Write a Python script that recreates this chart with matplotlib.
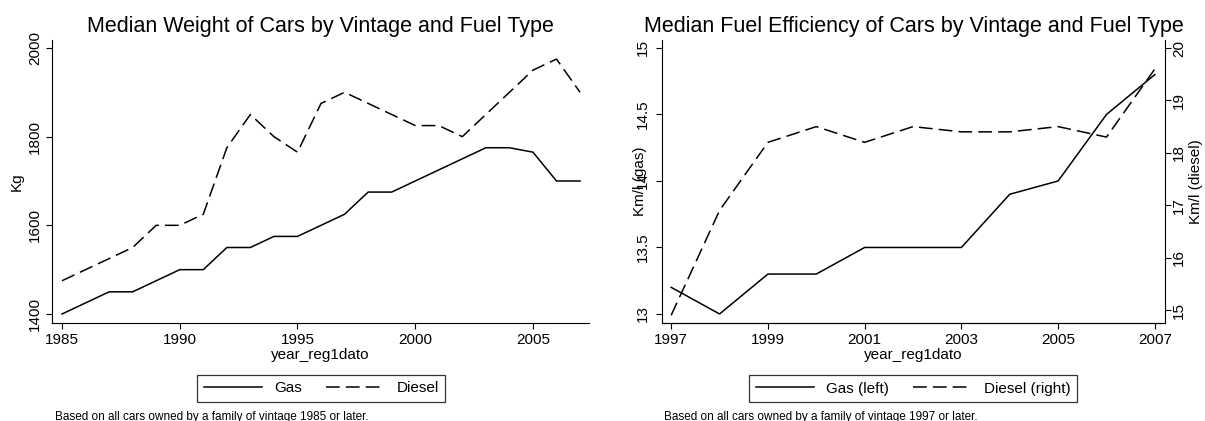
import matplotlib
matplotlib.use("Agg")
from matplotlib import pyplot as plt

plt.rcParams["font.family"] = ["Liberation Sans", "DejaVu Sans"]

# Left panel: median weight (kg)
years_w = list(range(1985, 2008))
gas_w = [1400, 1425, 1450, 1450, 1475, 1500, 1500, 1550, 1550, 1575, 1575, 1600,
         1625, 1675, 1675, 1700, 1725, 1750, 1775, 1775, 1765, 1700, 1700]
diesel_w = [1475, 1500, 1525, 1550, 1600, 1600, 1625, 1775, 1850, 1800, 1765, 1875,
            1900, 1875, 1850, 1825, 1825, 1800, 1850, 1900, 1950, 1975, 1900]

# Right panel: median fuel efficiency (km/l)
years_e = list(range(1997, 2008))
gas_e = [13.2, 13.0, 13.3, 13.3, 13.5, 13.5, 13.5, 13.9, 14.0, 14.5, 14.8]
diesel_e = [14.9, 16.9, 18.2, 18.5, 18.2, 18.5, 18.4, 18.4, 18.5, 18.3, 19.6]

W, H = 1205, 421
fig = plt.figure(figsize=(W / 100, H / 100), dpi=100)

dash = (0, (9, 4))
lw = 1.1
tick_fs = 11
lab_fs = 11
title_fs = 15.5


def rot_yticks(ax):
    for lbl in ax.get_yticklabels():
        lbl.set_rotation(90)
        lbl.set_va("center")


def style(ax):
    ax.spines["top"].set_visible(False)
    ax.spines["right"].set_visible(False)
    ax.tick_params(direction="out", length=4, width=0.8, pad=3, labelsize=tick_fs, colors="black")
    rot_yticks(ax)


def add_legend(handles, cx):
    leg = fig.legend(handles=handles, loc="center", bbox_to_anchor=(cx / W, 1 - 388.5 / H),
                     ncol=2, frameon=True, fancybox=False, fontsize=lab_fs, handlelength=3.8,
                     columnspacing=1.6, borderpad=0.45, edgecolor="black")
    leg.get_frame().set_linewidth(0.9)
    return leg


# ---- left chart
ax1 = fig.add_axes([52 / W, 1 - 323 / H, (589 - 52) / W, (323 - 40) / H])
l1, = ax1.plot(years_w, gas_w, color="black", lw=lw, label="Gas")
l2, = ax1.plot(years_w, diesel_w, color="black", lw=lw, linestyle=dash, label="Diesel")
ax1.set_xlim(1984.575, 2007.38)
ax1.set_ylim(1379.7, 2018)
ax1.set_xticks([1985, 1990, 1995, 2000, 2005])
ax1.set_yticks([1400, 1600, 1800, 2000])
style(ax1)
ax1.set_xlabel("year_reg1dato", fontsize=lab_fs, labelpad=1)
ax1.set_ylabel("Kg", fontsize=lab_fs, labelpad=3)
ax1.set_title("Median Weight of Cars by Vintage and Fuel Type", fontsize=title_fs, pad=6)
add_legend([l1, l2], 321)
fig.text(55 / W, 1 - 417 / H, "Based on all cars owned by a family of vintage 1985 or later.",
         fontsize=8.5, va="center", ha="left")

# ---- right chart
ax2 = fig.add_axes([662 / W, 1 - 323 / H, (1165 - 662) / W, (323 - 40) / H])
g2, = ax2.plot(years_e, gas_e, color="black", lw=lw, label="Gas (left)")
ax2.set_xlim(1996.81, 2007.21)
ax2.set_ylim(12.932, 15.06)
ax2.set_xticks([1997, 1999, 2001, 2003, 2005, 2007])
ax2.set_yticks([13, 13.5, 14, 14.5, 15])
ax2.set_yticklabels(["13", "13.5", "14", "14.5", "15"])
style(ax2)
ax2.tick_params(axis="y", pad=5)
ax2.set_xlabel("year_reg1dato", fontsize=lab_fs, labelpad=1)
ax2.set_ylabel("Km/l (gas)", fontsize=lab_fs, labelpad=-8)
ax2.set_title("Median Fuel Efficiency of Cars by Vintage and Fuel Type", fontsize=title_fs, pad=6)

ax3 = ax2.twinx()
d2, = ax3.plot(years_e, diesel_e, color="black", lw=lw, linestyle=dash, label="Diesel (right)")
ax3.set_ylim(14.752, 20.153)
ax3.set_yticks([15, 16, 17, 18, 19, 20])
ax3.spines["top"].set_visible(False)
ax3.spines["left"].set_visible(False)
ax3.tick_params(direction="out", length=4, width=0.8, pad=1, labelsize=tick_fs, colors="black")
rot_yticks(ax3)
ax3.set_ylabel("Km/l (diesel)", fontsize=lab_fs, labelpad=2)

add_legend([g2, d2], 913)
fig.text(664 / W, 1 - 417 / H, "Based on all cars owned by a family of vintage 1997 or later.",
         fontsize=8.5, va="center", ha="left")

fig.savefig("out.png", dpi=100, facecolor="white")
